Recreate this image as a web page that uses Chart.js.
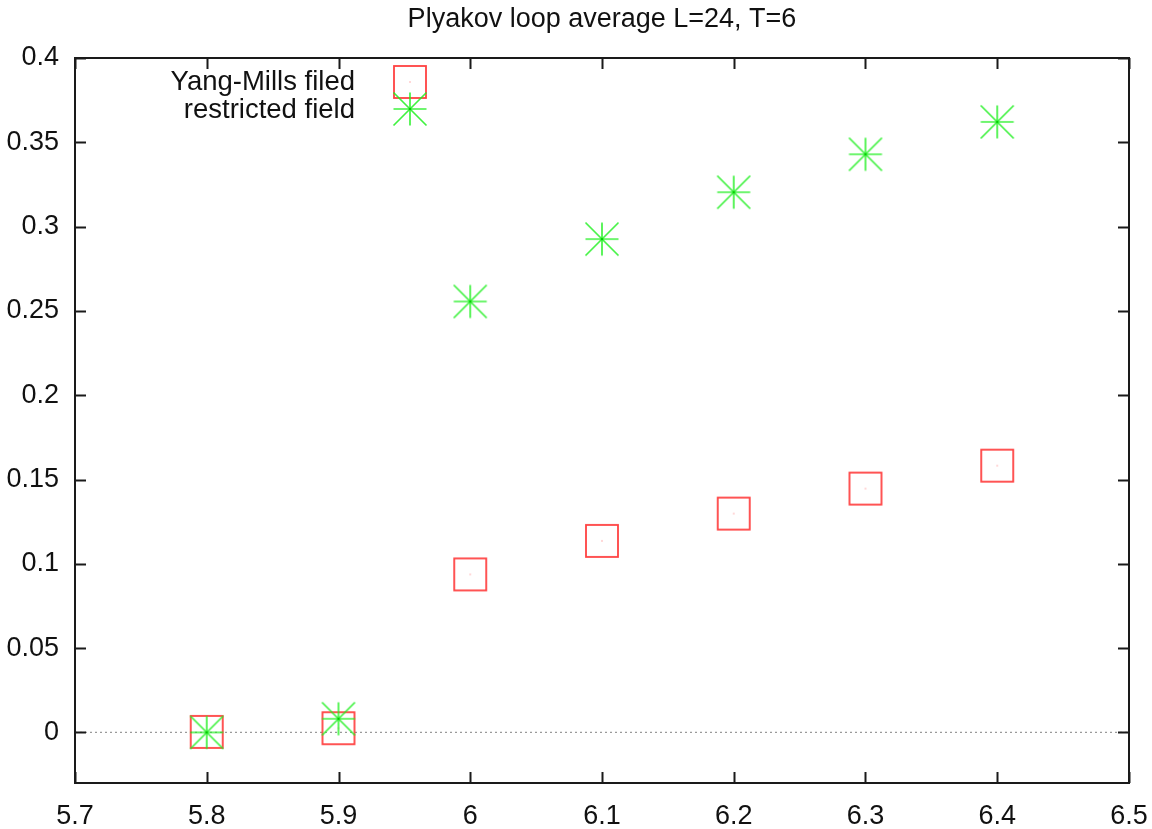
<!DOCTYPE html>
<html>
<head>
<meta charset="utf-8">
<title>Plyakov loop average</title>
<script src="https://cdn.jsdelivr.net/npm/chart.js@4/dist/chart.umd.min.js"></script>
<style>
  html, body { margin: 0; padding: 0; background: #fff; }
  #wrap { width: 1152px; height: 829px; }
</style>
</head>
<body>
<div id="wrap"><canvas id="plot" width="1152" height="829"></canvas></div>
<script>
// beta values and loop averages
const betas      = [5.8, 5.9, 6.0, 6.1, 6.2, 6.3, 6.4];
const ymValues   = [0.0003, 0.0025, 0.0937, 0.1136, 0.1298, 0.1446, 0.1582];
const restValues = [0.0, 0.0081, 0.2556, 0.2926, 0.3204, 0.3429, 0.3621];

const xTicks = [5.7, 5.8, 5.9, 6, 6.1, 6.2, 6.3, 6.4, 6.5];
const yTicks = [0, 0.05, 0.1, 0.15, 0.2, 0.25, 0.3, 0.35, 0.4];

const plotTitle = "Plyakov loop average L=24, T=6";
const seriesNames = ["Yang-Mills filed", "restricted field"];

const FONT = "'Liberation Sans', Arial, Helvetica, sans-serif";
Chart.defaults.font.family = FONT;
Chart.defaults.color = "#111";

// gnuplot-like markers as small canvases
function squareMark() {
  const c = document.createElement("canvas");
  c.width = 36; c.height = 36;
  const g = c.getContext("2d");
  g.strokeStyle = "rgba(255,45,45,0.9)";
  g.lineWidth = 1.8;
  g.strokeRect(2, 2, 32, 32);
  g.fillStyle = "rgba(255,60,60,0.8)";
  g.fillRect(17.5, 17.5, 1, 1);
  return c;
}
function starMark() {
  const c = document.createElement("canvas");
  c.width = 36; c.height = 36;
  const g = c.getContext("2d");
  const m = 18, r = 16.5;
  g.strokeStyle = "rgba(30,240,30,0.85)";
  g.lineWidth = 1.7;
  g.beginPath();
  g.moveTo(m - r, m); g.lineTo(m + r, m);
  g.moveTo(m, m - r); g.lineTo(m, m + r);
  g.moveTo(m - r, m - r); g.lineTo(m + r, m + r);
  g.moveTo(m - r, m + r); g.lineTo(m + r, m - r);
  g.stroke();
  g.fillStyle = "rgba(0,200,0,0.9)";
  g.fillRect(m - 1, m - 1, 2, 2);
  return c;
}
const sqImg = squareMark();
const stImg = starMark();

// frame, mirrored inward ticks, dotted zero line, title and key
const gnuFrame = {
  id: "gnuFrame",
  beforeDatasetsDraw(chart) {
    const {ctx, chartArea: a, scales} = chart;
    const y0 = scales.y.getPixelForValue(0);
    ctx.save();
    ctx.strokeStyle = "#9a9a9a";
    ctx.lineWidth = 1.4;
    ctx.setLineDash([2, 3]);
    ctx.beginPath();
    ctx.moveTo(a.left, y0);
    ctx.lineTo(a.right, y0);
    ctx.stroke();
    ctx.restore();
  },
  afterDraw(chart) {
    const {ctx, chartArea: a, scales} = chart;
    const tl = 11;
    ctx.save();
    ctx.strokeStyle = "#1a1a1a";
    ctx.lineWidth = 2;
    ctx.beginPath();
    for (const v of xTicks) {
      const px = Math.round(scales.x.getPixelForValue(v)) + 0.5;
      ctx.moveTo(px, a.bottom); ctx.lineTo(px, a.bottom - tl);
      ctx.moveTo(px, a.top); ctx.lineTo(px, a.top + tl);
    }
    for (const v of yTicks) {
      const py = Math.round(scales.y.getPixelForValue(v)) + 0.5;
      ctx.moveTo(a.left, py); ctx.lineTo(a.left + tl, py);
      ctx.moveTo(a.right, py); ctx.lineTo(a.right - tl, py);
    }
    ctx.stroke();
    ctx.strokeRect(a.left, a.top, a.right - a.left, a.bottom - a.top);

    // title centred over the plot area
    ctx.fillStyle = "#111";
    ctx.font = "27px " + FONT;
    ctx.textAlign = "center";
    ctx.textBaseline = "alphabetic";
    ctx.fillText(plotTitle, (a.left + a.right) / 2, 27);

    // key, top left inside the frame
    ctx.font = "27.5px " + FONT;
    ctx.textAlign = "right";
    ctx.textBaseline = "middle";
    ctx.fillText(seriesNames[0], 355, 82);
    ctx.fillText(seriesNames[1], 355, 110);
    ctx.drawImage(sqImg, 410 - 18, 82 - 18);
    ctx.drawImage(stImg, 410 - 18, 109 - 18);
    ctx.restore();
  }
};

new Chart(document.getElementById("plot").getContext("2d"), {
  type: "scatter",
  data: {
    datasets: [
      {
        label: seriesNames[0],
        data: betas.map((b, i) => ({x: b, y: ymValues[i]})),
        pointStyle: sqImg,
        order: 2
      },
      {
        label: seriesNames[1],
        data: betas.map((b, i) => ({x: b, y: restValues[i]})),
        pointStyle: stImg,
        order: 1
      }
    ]
  },
  options: {
    responsive: false,
    animation: false,
    layout: { padding: { left: 0, right: 23, top: 58, bottom: 0 } },
    scales: {
      x: {
        type: "linear",
        min: 5.7, max: 6.5,
        grid: { display: false },
        border: { display: false },
        afterBuildTicks: s => { s.ticks = xTicks.map(v => ({value: v})); },
        afterFit: s => { s.height = 46; s.paddingLeft = 0; s.paddingRight = 0; },
        ticks: {
          padding: 9,
          font: { size: 27 },
          color: "#111",
          maxRotation: 0,
          autoSkip: false,
          callback: v => String(v)
        }
      },
      y: {
        type: "linear",
        min: -0.03, max: 0.4,
        grid: { display: false },
        border: { display: false },
        afterBuildTicks: s => { s.ticks = yTicks.map(v => ({value: v})); },
        afterFit: s => { s.width = 75; s.paddingTop = 0; s.paddingBottom = 0; },
        ticks: {
          padding: 8,
          font: { size: 27 },
          color: "#111",
          autoSkip: false,
          callback: v => String(v)
        }
      }
    },
    plugins: {
      legend: { display: false },
      tooltip: { enabled: false },
      title: { display: false }
    }
  },
  plugins: [gnuFrame]
});
</script>
</body>
</html>
